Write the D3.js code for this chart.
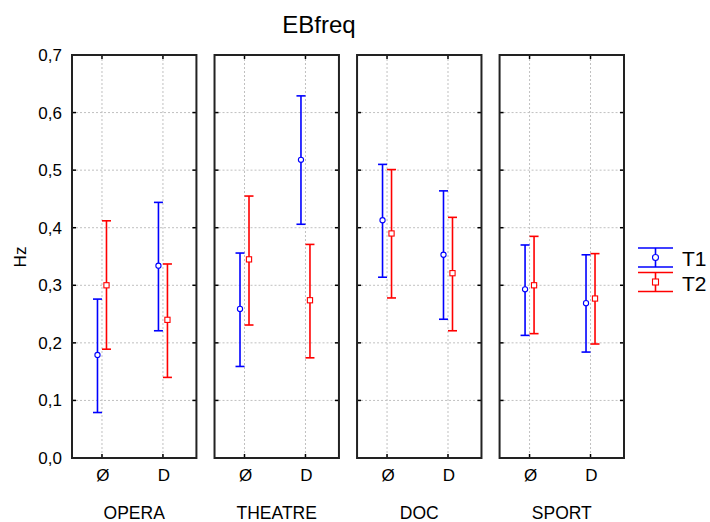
<!DOCTYPE html>
<html><head><meta charset="utf-8">
<script src="https://cdn.jsdelivr.net/npm/d3@7"></script>
<style>body{margin:0;background:#fff}svg{display:block}text{font-family:"Liberation Sans",Arial,sans-serif}</style>
</head><body><svg id="c" width="710" height="522"></svg>
<script>
const panels = ["OPERA","THEATRE","DOC","SPORT"];
const categories = ["Ø","D"];
const series = ["T1","T2"];
const yTicks = [0,0.1,0.2,0.3,0.4,0.5,0.6,0.7];
// [panel][category] values
const t1Mean  = [[0.179,0.334],[0.259,0.518],[0.413,0.353],[0.293,0.269]];
const t1Upper = [[0.276,0.444],[0.356,0.629],[0.510,0.464],[0.370,0.353]];
const t1Lower = [[0.079,0.221],[0.159,0.406],[0.314,0.241],[0.213,0.184]];
const t2Mean  = [[0.300,0.240],[0.345,0.274],[0.390,0.321],[0.300,0.277]];
const t2Upper = [[0.412,0.337],[0.455,0.371],[0.501,0.418],[0.385,0.355]];
const t2Lower = [[0.189,0.140],[0.231,0.174],[0.278,0.221],[0.216,0.198]];

const colors = {T1:"#0000ff",T2:"#ff0000"};
const svg = d3.select("#c");
const plotTop = 55, plotBottom = 458;
const y = d3.scaleLinear().domain([0,0.7]).range([plotBottom, plotTop]);
const px = d3.scaleBand().domain(panels).range([72, 624]).paddingInner(0.127).paddingOuter(0);
const cx = d3.scalePoint().domain(categories).range([-0.5, px.bandwidth()-3]).padding(0.5);
const off = d3.scalePoint().domain(series).range([-4.5, 4.5]);

const data = [];
panels.forEach((p,i)=>categories.forEach((c,j)=>{
  data.push({p,c,s:"T1",m:t1Mean[i][j],u:t1Upper[i][j],l:t1Lower[i][j]});
  data.push({p,c,s:"T2",m:t2Mean[i][j],u:t2Upper[i][j],l:t2Lower[i][j]});
}));

svg.append("text").attr("x",319).attr("y",33).attr("text-anchor","middle").attr("font-size",24).text("EBfreq");
svg.append("text").attr("transform","translate(26,257) rotate(-90)").attr("text-anchor","middle").attr("font-size",17).text("Hz");

panels.forEach((p,i)=>{
  const g = svg.append("g").attr("transform",`translate(${px(p)},0)`);
  const w = px.bandwidth();
  g.selectAll(".hg").data(yTicks.slice(1,-1)).join("line")
    .attr("x1",0).attr("x2",w).attr("y1",d=>y(d)).attr("y2",d=>y(d))
    .attr("stroke","#c0c0c0").attr("stroke-dasharray","2,2").attr("stroke-width",1);
  g.selectAll(".vg").data(categories).join("line")
    .attr("x1",d=>cx(d)).attr("x2",d=>cx(d)).attr("y1",plotTop).attr("y2",plotBottom)
    .attr("stroke","#c0c0c0").attr("stroke-dasharray","2,2").attr("stroke-width",1);
  g.selectAll(".tl").data(yTicks).join("line").attr("x1",0).attr("x2",4).attr("y1",d=>y(d)).attr("y2",d=>y(d)).attr("stroke","#000").attr("stroke-width",1.5);
  g.selectAll(".tr").data(yTicks).join("line").attr("x1",w-4).attr("x2",w).attr("y1",d=>y(d)).attr("y2",d=>y(d)).attr("stroke","#000").attr("stroke-width",1.5);
  g.selectAll(".tt").data(categories).join("line").attr("x1",d=>cx(d)).attr("x2",d=>cx(d)).attr("y1",plotTop).attr("y2",plotTop+4).attr("stroke","#000").attr("stroke-width",1.5);
  g.selectAll(".tb").data(categories).join("line").attr("x1",d=>cx(d)).attr("x2",d=>cx(d)).attr("y1",plotBottom-4).attr("y2",plotBottom).attr("stroke","#000").attr("stroke-width",1.5);
  g.append("rect").attr("x",0).attr("y",plotTop).attr("width",w).attr("height",plotBottom-plotTop).attr("fill","none").attr("stroke","#222").attr("stroke-width",2);
  g.selectAll(".cl").data(categories).join("text").attr("x",d=>cx(d)+1).attr("y",481).attr("text-anchor","middle").attr("font-size",17).text(d=>d);
  g.append("text").attr("x",w/2).attr("y",519).attr("text-anchor","middle").attr("font-size",17.5).text(p);
  const pd = data.filter(d=>d.p===p);
  const eb = g.selectAll(".eb").data(pd).join("g").attr("transform",d=>`translate(${cx(d.c)+off(d.s)},0)`);
  eb.append("line").attr("y1",d=>y(d.u)).attr("y2",d=>y(d.l)).attr("stroke",d=>colors[d.s]).attr("stroke-width",1.6);
  eb.append("line").attr("x1",-4.5).attr("x2",4.5).attr("y1",d=>y(d.u)).attr("y2",d=>y(d.u)).attr("stroke",d=>colors[d.s]).attr("stroke-width",1.6);
  eb.append("line").attr("x1",-4.5).attr("x2",4.5).attr("y1",d=>y(d.l)).attr("y2",d=>y(d.l)).attr("stroke",d=>colors[d.s]).attr("stroke-width",1.6);
  eb.filter(d=>d.s==="T1").append("circle").attr("cy",d=>y(d.m)).attr("r",2.6).attr("fill","#fff").attr("stroke",colors.T1).attr("stroke-width",1.1);
  eb.filter(d=>d.s==="T2").append("rect").attr("x",-2.6).attr("y",d=>y(d.m)-2.6).attr("width",5.2).attr("height",5.2).attr("fill","#fff").attr("stroke",colors.T2).attr("stroke-width",1.1);
});

const ya = svg.append("g").attr("transform","translate(72,0)")
  .call(d3.axisLeft(y).tickValues(yTicks).tickSize(0).tickPadding(10).tickFormat(d=>d3.format(".1f")(d).replace(".",",")));
ya.select(".domain").remove();
ya.selectAll("text").attr("font-size",17).attr("font-family","Liberation Sans, Arial, sans-serif");

const leg = svg.append("g").attr("transform","translate(638,0)");
series.forEach((s,i)=>{
  const t = 248 + i*24.5, b = t + 19, m = (t+b)/2;
  const g = leg.append("g");
  g.append("line").attr("x1",0).attr("x2",35).attr("y1",t).attr("y2",t).attr("stroke",colors[s]).attr("stroke-width",1.6);
  g.append("line").attr("x1",0).attr("x2",35).attr("y1",b).attr("y2",b).attr("stroke",colors[s]).attr("stroke-width",1.6);
  g.append("line").attr("x1",17.5).attr("x2",17.5).attr("y1",t).attr("y2",b).attr("stroke",colors[s]).attr("stroke-width",1.6);
  if(s==="T1") g.append("circle").attr("cx",17.5).attr("cy",m).attr("r",3).attr("fill","#fff").attr("stroke",colors[s]).attr("stroke-width",1.1);
  else g.append("rect").attr("x",14.5).attr("y",m-3).attr("width",6).attr("height",6).attr("fill","#fff").attr("stroke",colors[s]).attr("stroke-width",1.1);
  g.append("text").attr("x",44).attr("y",m+8.5).attr("font-size",21).text(s);
});
</script></body></html>
